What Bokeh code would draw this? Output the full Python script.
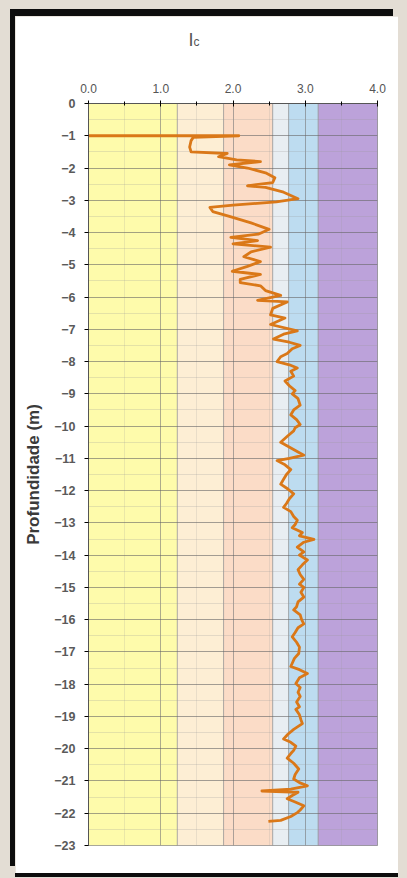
from bokeh.plotting import figure
from bokeh.models import (FixedTicker, NumeralTickFormatter, Title, Column,
                          ColumnDataSource)
from bokeh.embed import file_html
from bokeh.resources import INLINE

# --- data -------------------------------------------------------------
zone_left = [0.0, 1.23, 1.87, 2.55, 2.77, 3.18]
zone_right = [1.23, 1.87, 2.55, 2.77, 3.18, 4.0]
zone_colors = ["#fefbab", "#fdeed4", "#fbdcc7", "#e8eef2", "#bddcf0", "#bca2da"]

x_ticks = [0.0, 1.0, 2.0, 3.0, 4.0]
x_minor = [0.5, 1.5, 2.5, 3.5]
depth_ticks = list(range(-23, 1))
depth_minor = [t + 0.5 for t in range(-23, 0)]

depth = [
    1.00, 1.00, 1.05, 1.15, 1.35, 1.50, 1.55, 1.65, 1.75, 1.80, 1.90, 2.00,
    2.15, 2.30, 2.45, 2.55, 2.60, 2.75, 2.95, 3.05, 3.15, 3.22, 3.35, 3.50,
    3.70, 3.90, 4.05, 4.15, 4.25, 4.35, 4.45, 4.60, 4.75, 4.90, 5.05, 5.20,
    5.30, 5.45, 5.55, 5.65, 5.80, 5.95, 6.10, 6.15, 6.35, 6.55, 6.65, 6.85,
    7.05, 7.15, 7.30, 7.40, 7.50, 7.60, 7.75, 7.85, 8.00, 8.10, 8.20, 8.30,
    8.45, 8.60, 8.75, 8.90, 9.00, 9.15, 9.35, 9.50, 9.65, 9.80, 9.95, 10.05,
    10.15, 10.30, 10.50, 10.60, 10.70, 10.80, 10.90, 11.00, 11.07, 11.20,
    11.35, 11.50, 11.65, 11.80, 11.95, 12.10, 12.25, 12.40, 12.52, 12.65,
    12.80, 12.92, 13.05, 13.15, 13.30, 13.40, 13.51, 13.60, 13.75, 13.90,
    14.00, 14.15, 14.30, 14.45, 14.60, 14.75, 14.90, 15.00, 15.15, 15.30,
    15.45, 15.60, 15.70, 15.85, 16.00, 16.13, 16.25, 16.40, 16.53, 16.70,
    16.85, 17.05, 17.20, 17.35, 17.45, 17.55, 17.67, 17.80, 17.98, 18.10,
    18.25, 18.38, 18.55, 18.70, 18.78, 18.95, 19.10, 19.22, 19.40, 19.55,
    19.70, 19.80, 19.92, 20.05, 20.15, 20.29, 20.45, 20.63, 20.80, 20.94,
    21.05, 21.15, 21.25, 21.31, 21.35, 21.45, 21.55, 21.65, 21.77, 21.90,
    21.98, 22.10, 22.22, 22.25,
]
ic = [
    0.00, 2.08, 1.45, 1.42, 1.40, 1.42, 1.92, 1.80, 2.05, 2.38, 1.95, 2.20,
    2.45, 2.58, 2.55, 2.20, 2.45, 2.70, 2.90, 2.60, 2.00, 1.68, 1.72, 1.95,
    2.25, 2.50, 2.35, 1.97, 2.34, 2.00, 2.52, 2.25, 2.15, 2.38, 2.20, 1.99,
    2.38, 2.10, 2.10, 2.38, 2.45, 2.66, 2.34, 2.75, 2.55, 2.52, 2.72, 2.52,
    2.89, 2.70, 2.56, 2.78, 2.93, 2.82, 2.75, 2.66, 2.61, 2.78, 2.89, 2.80,
    2.84, 2.72, 2.78, 2.86, 2.82, 2.90, 2.93, 2.84, 2.80, 2.88, 2.93, 2.86,
    2.84, 2.76, 2.66, 2.74, 2.82, 2.90, 2.98, 2.78, 2.61, 2.72,
    2.80, 2.74, 2.70, 2.66, 2.76, 2.84, 2.78, 2.74, 2.70, 2.80,
    2.84, 2.89, 2.86, 2.82, 2.96, 2.92, 3.12, 2.98, 2.89, 2.98,
    2.92, 3.03, 2.96, 2.90, 2.93, 2.98, 2.92, 2.98, 2.94, 2.98,
    2.90, 2.88, 2.84, 2.93, 2.95, 2.98, 2.90, 2.86, 2.82, 2.88,
    2.92, 2.91, 2.85, 2.82, 2.80, 2.92, 3.03, 2.92, 2.87, 2.93,
    2.90, 2.93, 2.88, 2.92, 2.87, 2.92, 2.94, 2.96, 2.84, 2.76,
    2.70, 2.80, 2.87, 2.84, 2.80, 2.75, 2.84, 2.91, 2.86, 2.84,
    2.92, 3.03, 2.80, 2.40, 2.90, 2.82, 2.75, 2.86, 2.98, 2.93,
    2.89, 2.80, 2.66, 2.49,
]

# --- figure -----------------------------------------------------------
p = figure(width=383, height=857, x_range=(0, 4), y_range=(-23, 0),
           x_axis_location="above", output_backend="svg",
           toolbar_location=None, min_border_left=73, min_border_right=21,
           min_border_top=87, min_border_bottom=28)
p.border_fill_color = "white"
p.background_fill_color = "white"
p.outline_line_color = "#9a9a9a"

zones = ColumnDataSource(dict(left=zone_left, right=zone_right, color=zone_colors))
p.quad(left="left", right="right", bottom=-23, top=0, source=zones,
       fill_color="color", line_color="#8a8a8a", line_alpha=0.55, line_width=1,
       level="underlay")

neg_depth = [-d for d in depth]
p.line(ic, neg_depth, line_color="#da7818", line_width=2.8, line_join="round")

# axes
xa = p.xaxis[0]
xa.ticker = FixedTicker(ticks=x_ticks, minor_ticks=x_minor)
xa.formatter = NumeralTickFormatter(format="0.0")
xa.major_label_text_font = "Liberation Sans"
xa.major_label_text_font_size = "12px"
xa.major_label_text_color = "#555555"
xa.major_tick_in = 3
xa.major_tick_out = 3
xa.minor_tick_in = 2
xa.minor_tick_out = 2
xa.major_label_standoff = 8
xa.axis_line_color = "#555555"

ya = p.yaxis[0]
ya.ticker = FixedTicker(ticks=depth_ticks, minor_ticks=depth_minor)
ya.major_label_text_font = "Liberation Sans"
ya.major_label_text_font_size = "12.5px"
ya.major_label_text_font_style = "bold"
ya.major_label_text_color = "#5a5a5a"
ya.major_tick_in = 0
ya.major_tick_out = 4
ya.minor_tick_in = 0
ya.minor_tick_out = 0
ya.major_label_standoff = 9
ya.axis_line_color = "#555555"
ya.axis_label = "Profundidade (m)"
ya.axis_label_text_font = "Liberation Sans"
ya.axis_label_text_font_size = "17px"
ya.axis_label_text_font_style = "bold"
ya.axis_label_text_color = "#3a3a3a"
ya.axis_label_standoff = 8

p.xgrid.grid_line_color = "#777777"
p.xgrid.grid_line_alpha = 0.6
p.xgrid.minor_grid_line_color = "#999999"
p.xgrid.minor_grid_line_alpha = 0.2
p.ygrid.grid_line_color = "#666666"
p.ygrid.grid_line_alpha = 0.6
p.ygrid.minor_grid_line_color = "#999999"
p.ygrid.minor_grid_line_alpha = 0.25

# title I_c (stacked title rows, spacer first)
p.add_layout(Title(text=" ", text_font_size="10px", standoff=27), "above")
p.add_layout(Title(text="c", text_font="Liberation Sans", text_font_size="12px",
                   text_font_style="normal", text_color="#555555",
                   align="left", offset=105, standoff=-16), "above")
p.add_layout(Title(text="I", text_font="Liberation Sans", text_font_size="18px",
                   text_font_style="normal", text_color="#555555",
                   align="left", offset=100, standoff=-18), "above")

p.styles = {"box-shadow": "-5px -7px 0 0 #0d0d0d, 0 4px 0 0 #0d0d0d"}

layout = Column(children=[p], styles={"background-color": "#e3ddd4",
                                      "padding-left": "15px", "padding-top": "16px",
                                      "width": "407px", "height": "878px",
                                      "box-sizing": "border-box"})

open("out.html", "w").write(file_html(layout, INLINE))
